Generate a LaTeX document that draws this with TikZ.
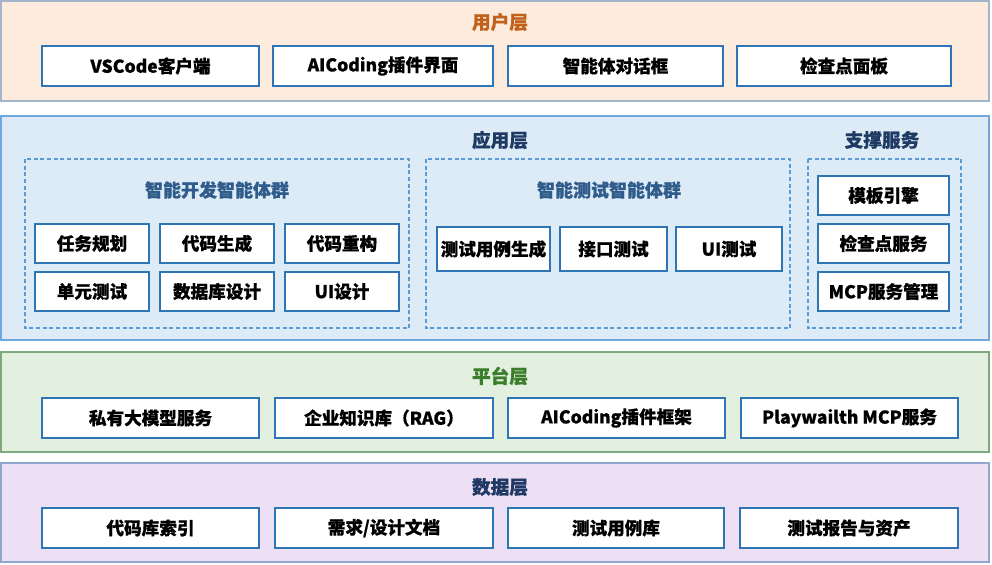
\documentclass[tikz,border=0pt]{standalone}
\usepackage{fontspec}
\setmainfont{Noto Sans CJK SC}[BoldFeatures={FakeBold=0.6}]
\definecolor{userfill}{HTML}{FDECDD}
\definecolor{userdraw}{HTML}{A3B5CB}
\definecolor{usertitle}{HTML}{C2611C}
\definecolor{appfill}{HTML}{DDEBF7}
\definecolor{appdraw}{HTML}{6FA8DC}
\definecolor{apptitle}{HTML}{1F3B63}
\definecolor{subtitle}{HTML}{2F5C8A}
\definecolor{dashdraw}{HTML}{5B9BD5}
\definecolor{platfill}{HTML}{E3F0E0}
\definecolor{platdraw}{HTML}{7EA97E}
\definecolor{plattitle}{HTML}{3A7D2A}
\definecolor{datafill}{HTML}{EEE0F4}
\definecolor{datadraw}{HTML}{90A8D0}
\definecolor{datatitle}{HTML}{1F3864}
\definecolor{boxdraw}{HTML}{2E75B6}
\begin{document}
\begin{tikzpicture}[x=0.75pt,y=-0.75pt,
  layer/.style={line width=0.8pt},
  item/.style={draw=boxdraw,fill=white,line width=1.5pt,inner sep=0pt,
    font=\fontsize{13.2}{15}\selectfont\bfseries},
  grp/.style={draw=dashdraw,dashed,line width=0.8pt,dash pattern=on 3pt off 2pt},
  ltitle/.style={font=\fontsize{14}{16}\selectfont\bfseries},
  stitle/.style={font=\fontsize{13.5}{16}\selectfont\bfseries,text=subtitle}]
\useasboundingbox (0,0) rectangle (992,564);
% layers
\draw[layer,fill=userfill,draw=userdraw] (1,1) rectangle (989,101);
\draw[layer,fill=appfill,draw=appdraw] (1,116) rectangle (989,340);
\draw[layer,fill=platfill,draw=platdraw] (1,352) rectangle (989,452);
\draw[layer,fill=datafill,draw=datadraw] (1,463) rectangle (989,562);
% titles
\node[ltitle,text=usertitle] (tuser) at (500,22) {用户层};
\node[ltitle,text=apptitle] (tapp) at (500,140) {应用层};
\node[ltitle,text=apptitle] (tsup) at (882,140) {支撑服务};
\node[ltitle,text=plattitle] (tplat) at (500,376) {平台层};
\node[ltitle,text=datatitle] (tdata) at (500,487) {数据层};
% user items
\node[item,minimum width=163pt,minimum height=30pt] (u1) at (150.5,66) {VSCode客户端};
\node[item,minimum width=165pt,minimum height=30pt] (u2) at (383,66) {AICoding插件界面};
\node[item,minimum width=161pt,minimum height=30pt] (u3) at (615.5,66) {智能体对话框};
\node[item,minimum width=160pt,minimum height=30pt] (u4) at (844,66) {检查点面板};
% groups
\draw[grp] (25,159) rectangle (409,328);
\draw[grp] (426,159) rectangle (790,328);
\draw[grp] (808,159) rectangle (961,328);
\node[stitle] (g1) at (217,190) {智能开发智能体群};
\node[stitle] (g2) at (609,190) {智能测试智能体群};
% dev items
\foreach \n/\x/\y/\t in {d1/92/243.5/任务规划, d2/217/243.5/代码生成, d3/342/243.5/代码重构,
  d4/92/291.5/单元测试, d5/217/291.5/数据库设计, d6/342/291.5/UI设计}{
  \node[item,minimum width=85.5pt,minimum height=29pt] (\n) at (\x,\y) {\t};
}
% test items
\node[item,minimum width=85pt,minimum height=33pt] (t1) at (493.5,249) {测试用例生成};
\node[item,minimum width=80pt,minimum height=33pt] (t2) at (613.5,249) {接口测试};
\node[item,minimum width=79pt,minimum height=33pt] (t3) at (729,249) {UI测试};
% support items
\node[item,minimum width=98pt,minimum height=29.5pt] (s1) at (883.5,195.5) {模板引擎};
\node[item,minimum width=98pt,minimum height=29.5pt] (s2) at (883.5,243.5) {检查点服务};
\node[item,minimum width=98pt,minimum height=29.5pt] (s3) at (883.5,291.5) {MCP服务管理};
% platform items
\node[item,minimum width=163pt,minimum height=30pt] (p1) at (150.5,418) {私有大模型服务};
\node[item,minimum width=163.5pt,minimum height=30pt] (p2) at (384,418) {企业知识库（RAG）};
\node[item,minimum width=162.5pt,minimum height=30pt] (p3) at (616.5,418) {AICoding插件框架};
\node[item,minimum width=163pt,minimum height=30pt] (p4) at (849.5,418) {Playwailth MCP服务};
% data items
\node[item,minimum width=163pt,minimum height=30pt] (a1) at (150.5,528) {代码库索引};
\node[item,minimum width=163.5pt,minimum height=30pt] (a2) at (384,528) {需求/设计文档};
\node[item,minimum width=162pt,minimum height=30pt] (a3) at (616,528) {测试用例库};
\node[item,minimum width=163.5pt,minimum height=30pt] (a4) at (849,528) {测试报告与资产};
\end{tikzpicture}
\end{document}
